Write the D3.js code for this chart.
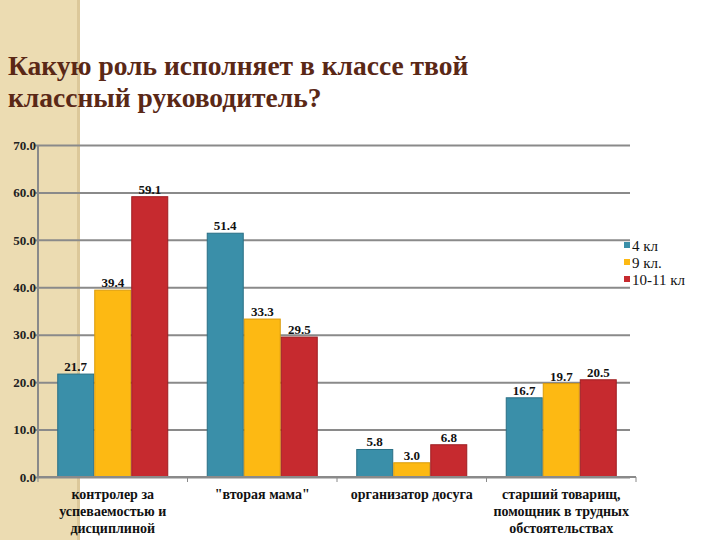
<!DOCTYPE html>
<html><head><meta charset="utf-8">
<script src="https://cdn.jsdelivr.net/npm/d3@7"></script>
<style>body{margin:0;background:#fff}svg{display:block}</style>
</head><body>
<svg id="c" width="720" height="540"></svg>
<script>
const categories = [["контролер за","успеваемостью и","дисциплиной"],["\"вторая мама\""],["организатор досуга"],["старший товарищ,","помощник в трудных","обстоятельствах"]];
const seriesNames = ["4 кл","9 кл.","10-11 кл"];
const s4 = [21.7, 51.4, 5.8, 16.7];
const s9 = [39.4, 33.3, 3.0, 19.7];
const s10 = [59.1, 29.5, 6.8, 20.5];
const yTicks = [0,10,20,30,40,50,60,70];
const colors = ["#3a8fa9","#fdb913","#c62a2f"];
const strokes = ["#2a6f85","#d99a0a","#9e1e22"];
const FONT = "Liberation Serif";

const svg = d3.select("#c");
svg.append("rect").attr("x",0).attr("y",0).attr("width",79).attr("height",540).attr("fill","#ecdcb2");
svg.append("rect").attr("x",77).attr("y",0).attr("width",3).attr("height",540).attr("fill","#dcc89a");

const title = svg.append("text").style("font-family",FONT).style("font-weight","bold")
  .attr("font-size",27.5).attr("fill","#5a2816");
title.append("tspan").attr("x",8).attr("y",75).text("Какую роль исполняет в классе твой");
title.append("tspan").attr("x",8).attr("y",107).text("классный руководитель?");

const x0 = d3.scaleBand().domain(d3.range(categories.length)).range([38,636]);
const x1 = d3.scaleBand().domain(d3.range(3)).range([0,x0.bandwidth()]).paddingOuter(0.52).paddingInner(0);
const y = d3.scaleLinear().domain([0,70]).range([477,145]);

const grid = svg.append("g").attr("transform","translate(38,0)")
  .call(d3.axisLeft(y).tickValues(yTicks).tickSize(-592).tickFormat(""));
grid.select(".domain").remove();
grid.selectAll("line").attr("stroke","#8a8a8a").attr("stroke-width",2);

const ya = svg.append("g").attr("transform","translate(38,0)")
  .call(d3.axisLeft(y).tickValues(yTicks).tickSize(4).tickFormat(d3.format(".1f")));
ya.select(".domain").attr("stroke","#8a8a8a").attr("stroke-width",2).attr("d","M0,145V477");
ya.selectAll("line").attr("stroke","#8a8a8a").attr("stroke-width",2);
ya.selectAll("text").style("font-family",FONT).style("font-weight","bold").attr("font-size",13).attr("fill","#222").attr("x",-2);

const series = [s4,s9,s10];
series.forEach((vals,si)=>{
  const g = svg.append("g");
  g.selectAll("rect").data(vals).join("rect")
    .attr("x",(d,i)=>x0(i)+x1(si)+0.5)
    .attr("y",d=>y(d))
    .attr("width",x1.bandwidth()-1)
    .attr("height",d=>y(0)-y(d))
    .attr("fill",colors[si]).attr("stroke",strokes[si]).attr("stroke-width",1);
  g.selectAll("text").data(vals).join("text")
    .attr("x",(d,i)=>x0(i)+x1(si)+x1.bandwidth()/2)
    .attr("y",d=>y(d)-3)
    .attr("text-anchor","middle").style("font-family",FONT).style("font-weight","bold")
    .attr("font-size",13).attr("fill","#111").text(d=>d.toFixed(1));
});

const xa = svg.append("g").attr("transform","translate(0,477)");
xa.append("line").attr("x1",38).attr("x2",636).attr("y1",0).attr("y2",0).attr("stroke","#8a8a8a").attr("stroke-width",2);
xa.selectAll("line.t").data(d3.range(categories.length+1)).join("line").attr("class","t")
  .attr("x1",i=>38+i*x0.bandwidth()).attr("x2",i=>38+i*x0.bandwidth()).attr("y1",0).attr("y2",5)
  .attr("stroke","#8a8a8a").attr("stroke-width",1);
categories.forEach((lines,i)=>{
  const t = xa.append("text").attr("text-anchor","middle").style("font-family",FONT)
    .style("font-weight","bold").attr("font-size",14).attr("fill","#111");
  lines.forEach((l,j)=>t.append("tspan").attr("x",x0(i)+x0.bandwidth()/2).attr("y",22+j*17).text(l));
});

const lg = svg.append("g");
seriesNames.forEach((n,i)=>{
  lg.append("rect").attr("x",624).attr("y",242+i*17).attr("width",6).attr("height",6).attr("fill",colors[i]);
  lg.append("text").attr("x",632).attr("y",251+i*17).style("font-family",FONT).attr("font-size",15).attr("fill","#111").text(n);
});
</script>
</body></html>
